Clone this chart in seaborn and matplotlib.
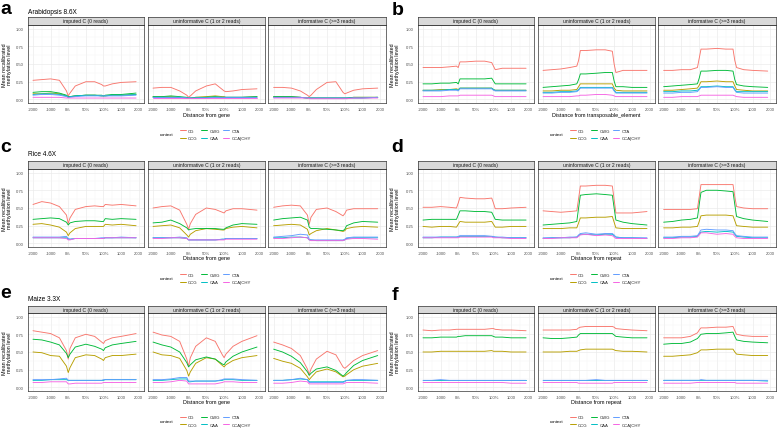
import numpy as np
import pandas as pd
import matplotlib
matplotlib.use("Agg")
import matplotlib.pyplot as plt
import seaborn as sns
from matplotlib.lines import Line2D

# ---------------- data ----------------
CONTEXTS = ["CG", "CCG", "CWG", "CAA", "CTA", "CCA|CHY"]
COLORS = ["#F8766D", "#B79F00", "#00BA38", "#00BFC4", "#619CFF", "#F564E3"]
FACETS = ["imputed C (0 reads)", "uninformative C (1 or 2 reads)", "informative C (>=3 reads)"]
# positions in tick units: 0=-2000, 1=-1000, 2=0%, 3=50%, 4=100%, 5=1000, 6=2000
POS = [0, 0.5, 1.0, 1.5, 1.9, 2.0, 2.1, 2.4, 3.0, 3.5, 3.9, 4.0, 4.1, 4.5, 5.0, 5.85]
TICK_POS = [0, 1, 2, 3, 4, 5, 6]
TICK_LABELS = ["-2000", "-1000", "0%", "50%", "100%", "1000", "2000"]
Y_TICKS = [0.0, 0.25, 0.5, 0.75, 1.0]
Y_TICK_LABELS = ["0.00", "0.25", "0.50", "0.75", "1.00"]

# a: Arabidopsis, gene
a_imputed = {
    "CG":      [0.27, 0.28, 0.29, 0.27, 0.12, 0.05, 0.09, 0.19, 0.25, 0.25, 0.21, 0.19, 0.19, 0.22, 0.24, 0.25],
    "CCG":     [0.08, 0.08, 0.09, 0.08, 0.05, 0.03, 0.04, 0.05, 0.06, 0.06, 0.05, 0.05, 0.05, 0.06, 0.06, 0.07],
    "CWG":     [0.10, 0.11, 0.11, 0.09, 0.06, 0.04, 0.04, 0.05, 0.06, 0.06, 0.06, 0.05, 0.06, 0.07, 0.07, 0.09],
    "CAA":     [0.07, 0.08, 0.08, 0.07, 0.05, 0.03, 0.04, 0.05, 0.06, 0.06, 0.05, 0.05, 0.05, 0.06, 0.06, 0.07],
    "CTA":     [0.06, 0.07, 0.07, 0.06, 0.04, 0.03, 0.03, 0.04, 0.05, 0.05, 0.05, 0.05, 0.05, 0.05, 0.05, 0.06],
    "CCA|CHY": [0.03, 0.03, 0.03, 0.03, 0.02, 0.02, 0.02, 0.02, 0.02, 0.02, 0.02, 0.02, 0.02, 0.02, 0.02, 0.02],
}
a_uninformative = {
    "CG":      [0.16, 0.17, 0.17, 0.12, 0.06, 0.03, 0.05, 0.12, 0.19, 0.22, 0.14, 0.12, 0.11, 0.12, 0.14, 0.15],
    "CCG":     [0.04, 0.04, 0.04, 0.03, 0.02, 0.02, 0.02, 0.03, 0.04, 0.05, 0.04, 0.04, 0.03, 0.03, 0.03, 0.04],
    "CWG":     [0.04, 0.04, 0.05, 0.04, 0.03, 0.02, 0.02, 0.03, 0.03, 0.04, 0.03, 0.03, 0.03, 0.03, 0.03, 0.04],
    "CAA":     [0.03, 0.03, 0.03, 0.03, 0.02, 0.02, 0.02, 0.02, 0.03, 0.03, 0.03, 0.03, 0.03, 0.03, 0.03, 0.03],
    "CTA":     [0.03, 0.03, 0.03, 0.03, 0.02, 0.02, 0.02, 0.02, 0.02, 0.03, 0.03, 0.03, 0.03, 0.03, 0.03, 0.03],
    "CCA|CHY": [0.02, 0.02, 0.02, 0.02, 0.02, 0.02, 0.02, 0.02, 0.02, 0.02, 0.02, 0.02, 0.02, 0.02, 0.02, 0.02],
}
a_informative = {
    "CG":      [0.17, 0.17, 0.16, 0.12, 0.06, 0.04, 0.06, 0.14, 0.24, 0.25, 0.10, 0.08, 0.09, 0.13, 0.15, 0.16],
    "CCG":     [0.04, 0.04, 0.04, 0.03, 0.02, 0.02, 0.02, 0.02, 0.02, 0.02, 0.02, 0.02, 0.02, 0.03, 0.03, 0.03],
    "CWG":     [0.04, 0.04, 0.04, 0.03, 0.02, 0.02, 0.02, 0.02, 0.02, 0.02, 0.02, 0.02, 0.02, 0.03, 0.03, 0.03],
    "CAA":     [0.03, 0.03, 0.03, 0.03, 0.02, 0.02, 0.02, 0.02, 0.02, 0.02, 0.02, 0.02, 0.02, 0.02, 0.02, 0.03],
    "CTA":     [0.03, 0.03, 0.03, 0.03, 0.02, 0.02, 0.02, 0.02, 0.02, 0.02, 0.02, 0.02, 0.02, 0.02, 0.02, 0.03],
    "CCA|CHY": [0.02, 0.02, 0.02, 0.02, 0.02, 0.01, 0.01, 0.01, 0.01, 0.01, 0.01, 0.01, 0.01, 0.02, 0.02, 0.02],
}

# b: Arabidopsis, transposable element
b_imputed = {
    "CG":      [0.45, 0.45, 0.45, 0.46, 0.47, 0.45, 0.53, 0.53, 0.54, 0.54, 0.52, 0.47, 0.42, 0.44, 0.44, 0.44],
    "CCG":     [0.13, 0.13, 0.14, 0.14, 0.15, 0.14, 0.16, 0.16, 0.16, 0.16, 0.16, 0.14, 0.13, 0.13, 0.13, 0.13],
    "CWG":     [0.22, 0.22, 0.23, 0.23, 0.24, 0.22, 0.29, 0.29, 0.29, 0.29, 0.30, 0.26, 0.22, 0.22, 0.22, 0.22],
    "CAA":     [0.13, 0.13, 0.13, 0.14, 0.14, 0.13, 0.16, 0.16, 0.16, 0.16, 0.16, 0.14, 0.13, 0.13, 0.13, 0.13],
    "CTA":     [0.12, 0.12, 0.12, 0.13, 0.13, 0.12, 0.15, 0.15, 0.15, 0.15, 0.15, 0.13, 0.12, 0.12, 0.12, 0.12],
    "CCA|CHY": [0.04, 0.04, 0.04, 0.05, 0.05, 0.05, 0.06, 0.06, 0.06, 0.06, 0.06, 0.05, 0.04, 0.04, 0.04, 0.04],
}
b_uninformative = {
    "CG":      [0.41, 0.42, 0.43, 0.45, 0.47, 0.55, 0.69, 0.69, 0.70, 0.70, 0.68, 0.50, 0.38, 0.41, 0.41, 0.41],
    "CCG":     [0.12, 0.12, 0.13, 0.13, 0.14, 0.18, 0.22, 0.22, 0.22, 0.22, 0.22, 0.16, 0.13, 0.12, 0.12, 0.12],
    "CWG":     [0.17, 0.18, 0.19, 0.20, 0.22, 0.28, 0.36, 0.36, 0.37, 0.38, 0.38, 0.26, 0.18, 0.18, 0.17, 0.17],
    "CAA":     [0.10, 0.10, 0.11, 0.11, 0.12, 0.14, 0.17, 0.17, 0.17, 0.17, 0.17, 0.13, 0.10, 0.10, 0.10, 0.10],
    "CTA":     [0.09, 0.09, 0.10, 0.10, 0.11, 0.13, 0.16, 0.16, 0.16, 0.16, 0.16, 0.12, 0.09, 0.09, 0.09, 0.09],
    "CCA|CHY": [0.04, 0.04, 0.04, 0.04, 0.05, 0.05, 0.06, 0.06, 0.07, 0.07, 0.06, 0.05, 0.04, 0.04, 0.04, 0.04],
}
b_informative = {
    "CG":      [0.41, 0.41, 0.42, 0.42, 0.45, 0.58, 0.71, 0.71, 0.72, 0.71, 0.71, 0.55, 0.45, 0.42, 0.41, 0.40],
    "CCG":     [0.13, 0.13, 0.14, 0.15, 0.16, 0.20, 0.25, 0.25, 0.26, 0.25, 0.25, 0.19, 0.14, 0.13, 0.12, 0.12],
    "CWG":     [0.18, 0.19, 0.20, 0.21, 0.22, 0.30, 0.40, 0.40, 0.41, 0.41, 0.40, 0.28, 0.21, 0.19, 0.18, 0.17],
    "CAA":     [0.11, 0.11, 0.12, 0.12, 0.13, 0.15, 0.18, 0.18, 0.19, 0.18, 0.18, 0.14, 0.11, 0.11, 0.11, 0.11],
    "CTA":     [0.09, 0.09, 0.10, 0.10, 0.11, 0.14, 0.17, 0.17, 0.18, 0.17, 0.17, 0.13, 0.10, 0.09, 0.09, 0.09],
    "CCA|CHY": [0.03, 0.03, 0.04, 0.04, 0.04, 0.05, 0.06, 0.06, 0.06, 0.06, 0.06, 0.05, 0.04, 0.03, 0.03, 0.03],
}

# c: Rice, gene
c_imputed = {
    "CG":      [0.55, 0.59, 0.57, 0.52, 0.40, 0.28, 0.36, 0.48, 0.52, 0.53, 0.52, 0.52, 0.55, 0.54, 0.55, 0.53],
    "CCG":     [0.27, 0.28, 0.26, 0.23, 0.16, 0.11, 0.15, 0.21, 0.24, 0.24, 0.24, 0.24, 0.27, 0.26, 0.27, 0.25],
    "CWG":     [0.34, 0.35, 0.36, 0.35, 0.30, 0.26, 0.29, 0.31, 0.32, 0.32, 0.31, 0.31, 0.35, 0.34, 0.35, 0.34],
    "CAA":     [0.08, 0.08, 0.08, 0.08, 0.08, 0.06, 0.06, 0.07, 0.07, 0.07, 0.07, 0.07, 0.08, 0.08, 0.08, 0.08],
    "CTA":     [0.09, 0.09, 0.09, 0.09, 0.10, 0.07, 0.06, 0.07, 0.07, 0.07, 0.08, 0.08, 0.08, 0.08, 0.09, 0.08],
    "CCA|CHY": [0.08, 0.08, 0.08, 0.08, 0.07, 0.05, 0.05, 0.07, 0.07, 0.07, 0.07, 0.07, 0.08, 0.08, 0.08, 0.08],
}
c_uninformative = {
    "CG":      [0.50, 0.52, 0.53, 0.47, 0.27, 0.20, 0.28, 0.41, 0.50, 0.48, 0.44, 0.43, 0.46, 0.49, 0.49, 0.47],
    "CCG":     [0.24, 0.25, 0.26, 0.22, 0.12, 0.09, 0.13, 0.18, 0.21, 0.20, 0.19, 0.19, 0.21, 0.23, 0.24, 0.22],
    "CWG":     [0.29, 0.30, 0.33, 0.28, 0.22, 0.19, 0.20, 0.21, 0.21, 0.21, 0.20, 0.20, 0.22, 0.26, 0.28, 0.27],
    "CAA":     [0.08, 0.08, 0.08, 0.08, 0.07, 0.05, 0.05, 0.05, 0.05, 0.05, 0.06, 0.06, 0.07, 0.07, 0.07, 0.07],
    "CTA":     [0.08, 0.08, 0.08, 0.09, 0.08, 0.05, 0.05, 0.05, 0.05, 0.05, 0.06, 0.06, 0.07, 0.07, 0.07, 0.07],
    "CCA|CHY": [0.07, 0.07, 0.08, 0.08, 0.07, 0.05, 0.05, 0.05, 0.05, 0.05, 0.05, 0.05, 0.06, 0.06, 0.06, 0.06],
}
c_informative = {
    "CG":      [0.51, 0.53, 0.54, 0.53, 0.40, 0.27, 0.37, 0.48, 0.50, 0.45, 0.39, 0.42, 0.47, 0.49, 0.49, 0.49],
    "CCG":     [0.25, 0.26, 0.27, 0.26, 0.20, 0.12, 0.14, 0.18, 0.21, 0.19, 0.17, 0.18, 0.21, 0.23, 0.24, 0.23],
    "CWG":     [0.33, 0.35, 0.36, 0.37, 0.33, 0.23, 0.21, 0.21, 0.20, 0.19, 0.18, 0.20, 0.25, 0.29, 0.31, 0.30],
    "CAA":     [0.08, 0.08, 0.09, 0.09, 0.08, 0.05, 0.05, 0.04, 0.04, 0.04, 0.04, 0.05, 0.07, 0.08, 0.08, 0.08],
    "CTA":     [0.09, 0.10, 0.11, 0.13, 0.12, 0.06, 0.05, 0.05, 0.05, 0.05, 0.05, 0.06, 0.08, 0.09, 0.09, 0.09],
    "CCA|CHY": [0.07, 0.07, 0.08, 0.09, 0.08, 0.05, 0.04, 0.04, 0.04, 0.04, 0.04, 0.05, 0.06, 0.07, 0.07, 0.06],
}

# d: Rice, repeat
d_imputed = {
    "CG":      [0.51, 0.51, 0.52, 0.51, 0.50, 0.57, 0.65, 0.64, 0.63, 0.63, 0.64, 0.57, 0.49, 0.49, 0.50, 0.51],
    "CCG":     [0.24, 0.23, 0.24, 0.24, 0.23, 0.27, 0.31, 0.30, 0.30, 0.30, 0.31, 0.27, 0.23, 0.23, 0.24, 0.24],
    "CWG":     [0.33, 0.34, 0.34, 0.34, 0.34, 0.40, 0.46, 0.46, 0.45, 0.45, 0.44, 0.39, 0.34, 0.33, 0.33, 0.33],
    "CAA":     [0.08, 0.08, 0.09, 0.09, 0.09, 0.09, 0.10, 0.10, 0.10, 0.10, 0.10, 0.09, 0.09, 0.08, 0.08, 0.08],
    "CTA":     [0.09, 0.09, 0.09, 0.09, 0.09, 0.10, 0.11, 0.11, 0.11, 0.11, 0.10, 0.10, 0.09, 0.09, 0.08, 0.08],
    "CCA|CHY": [0.08, 0.08, 0.08, 0.08, 0.08, 0.08, 0.09, 0.09, 0.09, 0.09, 0.09, 0.08, 0.08, 0.08, 0.07, 0.07],
}
d_uninformative = {
    "CG":      [0.46, 0.45, 0.44, 0.45, 0.46, 0.63, 0.81, 0.81, 0.82, 0.82, 0.81, 0.62, 0.43, 0.43, 0.43, 0.45],
    "CCG":     [0.21, 0.21, 0.21, 0.22, 0.22, 0.29, 0.36, 0.36, 0.37, 0.37, 0.38, 0.30, 0.22, 0.21, 0.21, 0.21],
    "CWG":     [0.26, 0.27, 0.28, 0.29, 0.31, 0.50, 0.68, 0.69, 0.70, 0.69, 0.68, 0.50, 0.33, 0.30, 0.28, 0.26],
    "CAA":     [0.07, 0.08, 0.08, 0.08, 0.09, 0.11, 0.13, 0.13, 0.12, 0.13, 0.13, 0.11, 0.09, 0.08, 0.08, 0.07],
    "CTA":     [0.08, 0.08, 0.08, 0.09, 0.09, 0.12, 0.14, 0.15, 0.13, 0.14, 0.14, 0.12, 0.09, 0.08, 0.08, 0.08],
    "CCA|CHY": [0.07, 0.07, 0.08, 0.08, 0.08, 0.10, 0.12, 0.13, 0.11, 0.12, 0.11, 0.09, 0.07, 0.07, 0.07, 0.07],
}
d_informative = {
    "CG":      [0.48, 0.48, 0.48, 0.48, 0.49, 0.66, 0.83, 0.83, 0.83, 0.83, 0.83, 0.66, 0.52, 0.50, 0.49, 0.49],
    "CCG":     [0.22, 0.22, 0.23, 0.23, 0.24, 0.31, 0.39, 0.40, 0.40, 0.40, 0.39, 0.32, 0.25, 0.24, 0.23, 0.23],
    "CWG":     [0.30, 0.31, 0.33, 0.34, 0.36, 0.55, 0.72, 0.75, 0.75, 0.74, 0.73, 0.55, 0.38, 0.35, 0.33, 0.31],
    "CAA":     [0.08, 0.08, 0.09, 0.09, 0.10, 0.13, 0.16, 0.17, 0.16, 0.17, 0.16, 0.13, 0.10, 0.09, 0.08, 0.08],
    "CTA":     [0.09, 0.09, 0.10, 0.10, 0.11, 0.15, 0.19, 0.20, 0.19, 0.19, 0.18, 0.14, 0.11, 0.10, 0.09, 0.09],
    "CCA|CHY": [0.07, 0.07, 0.08, 0.08, 0.09, 0.12, 0.15, 0.15, 0.13, 0.14, 0.13, 0.10, 0.08, 0.07, 0.07, 0.07],
}

# e: Maize, gene
e_imputed = {
    "CG":      [0.80, 0.78, 0.76, 0.70, 0.52, 0.40, 0.55, 0.70, 0.75, 0.72, 0.64, 0.62, 0.66, 0.70, 0.72, 0.76],
    "CCG":     [0.50, 0.49, 0.45, 0.44, 0.30, 0.21, 0.28, 0.42, 0.46, 0.45, 0.40, 0.38, 0.42, 0.45, 0.45, 0.47],
    "CWG":     [0.68, 0.67, 0.64, 0.60, 0.48, 0.42, 0.47, 0.57, 0.61, 0.58, 0.54, 0.52, 0.56, 0.60, 0.62, 0.65],
    "CAA":     [0.10, 0.10, 0.11, 0.11, 0.11, 0.10, 0.10, 0.10, 0.10, 0.10, 0.10, 0.10, 0.11, 0.11, 0.11, 0.11],
    "CTA":     [0.11, 0.11, 0.11, 0.12, 0.13, 0.10, 0.10, 0.10, 0.10, 0.10, 0.10, 0.11, 0.11, 0.11, 0.11, 0.11],
    "CCA|CHY": [0.07, 0.07, 0.08, 0.08, 0.08, 0.05, 0.05, 0.06, 0.06, 0.06, 0.06, 0.07, 0.07, 0.07, 0.07, 0.07],
}
e_uninformative = {
    "CG":      [0.78, 0.74, 0.72, 0.65, 0.40, 0.30, 0.42, 0.58, 0.70, 0.65, 0.46, 0.42, 0.47, 0.58, 0.65, 0.73],
    "CCG":     [0.50, 0.46, 0.45, 0.41, 0.24, 0.16, 0.22, 0.34, 0.42, 0.40, 0.31, 0.29, 0.32, 0.38, 0.42, 0.45],
    "CWG":     [0.64, 0.60, 0.57, 0.50, 0.35, 0.29, 0.32, 0.39, 0.43, 0.40, 0.33, 0.32, 0.36, 0.44, 0.50, 0.57],
    "CAA":     [0.10, 0.10, 0.11, 0.12, 0.12, 0.08, 0.08, 0.09, 0.09, 0.09, 0.10, 0.11, 0.11, 0.11, 0.10, 0.10],
    "CTA":     [0.11, 0.11, 0.12, 0.14, 0.14, 0.09, 0.09, 0.09, 0.09, 0.09, 0.11, 0.12, 0.12, 0.12, 0.11, 0.10],
    "CCA|CHY": [0.07, 0.07, 0.08, 0.10, 0.09, 0.05, 0.05, 0.05, 0.05, 0.05, 0.07, 0.08, 0.08, 0.08, 0.07, 0.07],
}
e_informative = {
    "CG":      [0.64, 0.60, 0.55, 0.45, 0.26, 0.18, 0.26, 0.40, 0.51, 0.46, 0.29, 0.27, 0.29, 0.38, 0.45, 0.52],
    "CCG":     [0.41, 0.37, 0.34, 0.27, 0.15, 0.11, 0.14, 0.22, 0.26, 0.22, 0.15, 0.16, 0.18, 0.25, 0.30, 0.34],
    "CWG":     [0.54, 0.50, 0.44, 0.35, 0.22, 0.17, 0.20, 0.26, 0.29, 0.24, 0.16, 0.18, 0.21, 0.31, 0.38, 0.45],
    "CAA":     [0.10, 0.10, 0.11, 0.12, 0.11, 0.08, 0.08, 0.08, 0.08, 0.08, 0.08, 0.09, 0.10, 0.10, 0.10, 0.10],
    "CTA":     [0.10, 0.10, 0.11, 0.13, 0.11, 0.07, 0.07, 0.07, 0.07, 0.07, 0.07, 0.08, 0.10, 0.11, 0.11, 0.10],
    "CCA|CHY": [0.06, 0.06, 0.07, 0.09, 0.08, 0.05, 0.05, 0.05, 0.05, 0.05, 0.05, 0.06, 0.07, 0.07, 0.07, 0.06],
}

# f: Maize, repeat
f_imputed = {
    "CG":      [0.81, 0.80, 0.81, 0.81, 0.82, 0.82, 0.82, 0.82, 0.82, 0.82, 0.83, 0.83, 0.82, 0.81, 0.81, 0.80],
    "CCG":     [0.50, 0.50, 0.51, 0.51, 0.51, 0.51, 0.51, 0.51, 0.51, 0.51, 0.52, 0.51, 0.51, 0.51, 0.50, 0.50],
    "CWG":     [0.70, 0.70, 0.71, 0.71, 0.71, 0.72, 0.72, 0.73, 0.73, 0.73, 0.73, 0.72, 0.71, 0.71, 0.70, 0.70],
    "CAA":     [0.10, 0.10, 0.10, 0.10, 0.10, 0.10, 0.10, 0.10, 0.10, 0.10, 0.10, 0.10, 0.10, 0.10, 0.10, 0.10],
    "CTA":     [0.10, 0.10, 0.11, 0.10, 0.10, 0.10, 0.10, 0.10, 0.10, 0.10, 0.10, 0.10, 0.10, 0.10, 0.10, 0.10],
    "CCA|CHY": [0.07, 0.07, 0.07, 0.07, 0.07, 0.07, 0.07, 0.07, 0.07, 0.07, 0.07, 0.07, 0.07, 0.07, 0.06, 0.06],
}
f_uninformative = {
    "CG":      [0.81, 0.81, 0.81, 0.81, 0.82, 0.84, 0.85, 0.86, 0.86, 0.86, 0.86, 0.85, 0.83, 0.82, 0.81, 0.80],
    "CCG":     [0.50, 0.50, 0.50, 0.51, 0.51, 0.52, 0.53, 0.54, 0.54, 0.54, 0.54, 0.53, 0.52, 0.51, 0.51, 0.50],
    "CWG":     [0.70, 0.69, 0.69, 0.70, 0.71, 0.74, 0.76, 0.76, 0.76, 0.76, 0.76, 0.74, 0.72, 0.71, 0.70, 0.70],
    "CAA":     [0.10, 0.10, 0.10, 0.10, 0.10, 0.10, 0.10, 0.10, 0.10, 0.10, 0.10, 0.10, 0.10, 0.10, 0.10, 0.10],
    "CTA":     [0.10, 0.10, 0.10, 0.10, 0.10, 0.10, 0.10, 0.10, 0.11, 0.10, 0.10, 0.10, 0.10, 0.10, 0.10, 0.10],
    "CCA|CHY": [0.07, 0.07, 0.07, 0.07, 0.07, 0.06, 0.06, 0.06, 0.06, 0.06, 0.06, 0.07, 0.07, 0.07, 0.07, 0.07],
}
f_informative = {
    "CG":      [0.70, 0.70, 0.70, 0.72, 0.77, 0.81, 0.84, 0.84, 0.85, 0.85, 0.86, 0.80, 0.75, 0.73, 0.72, 0.72],
    "CCG":     [0.44, 0.44, 0.45, 0.46, 0.49, 0.51, 0.53, 0.53, 0.54, 0.54, 0.54, 0.50, 0.47, 0.46, 0.45, 0.45],
    "CWG":     [0.61, 0.62, 0.62, 0.64, 0.69, 0.72, 0.75, 0.76, 0.76, 0.77, 0.78, 0.72, 0.67, 0.65, 0.64, 0.63],
    "CAA":     [0.10, 0.10, 0.10, 0.10, 0.10, 0.10, 0.10, 0.10, 0.10, 0.10, 0.10, 0.10, 0.10, 0.10, 0.10, 0.09],
    "CTA":     [0.10, 0.10, 0.10, 0.10, 0.10, 0.10, 0.11, 0.10, 0.10, 0.10, 0.10, 0.10, 0.10, 0.10, 0.10, 0.10],
    "CCA|CHY": [0.06, 0.06, 0.06, 0.06, 0.07, 0.07, 0.07, 0.07, 0.07, 0.07, 0.07, 0.07, 0.06, 0.06, 0.06, 0.06],
}

PANELS = [
    dict(letter="a", title="Arabidopsis 8.6X", xlabel="Distance from gene", col=0, row=0,
         facets=[a_imputed, a_uninformative, a_informative]),
    dict(letter="b", title=None, xlabel="Distance from transposable_element", col=1, row=0,
         facets=[b_imputed, b_uninformative, b_informative]),
    dict(letter="c", title="Rice 4.6X", xlabel="Distance from gene", col=0, row=1,
         facets=[c_imputed, c_uninformative, c_informative]),
    dict(letter="d", title=None, xlabel="Distance from repeat", col=1, row=1,
         facets=[d_imputed, d_uninformative, d_informative]),
    dict(letter="e", title="Maize 3.3X", xlabel="Distance from gene", col=0, row=2,
         facets=[e_imputed, e_uninformative, e_informative]),
    dict(letter="f", title=None, xlabel="Distance from repeat", col=1, row=2,
         facets=[f_imputed, f_uninformative, f_informative]),
]

# ---------------- layout (pixels) ----------------
W, H = 777, 431
COL_X = [0, 390]
# (strip top, plot top, plot bottom, title center, xlabel center, legend center)
ROWS = [
    (17.5, 26.0, 104.0, 13.0, 115.5, 135.5),
    (162.0, 170.0, 248.0, 154.5, 258.5, 279.5),
    (306.5, 314.0, 392.0, 299.5, 402.5, 422.0),
]
LETTER_BASE = {"a": 13.5, "b": 15.0, "c": 152.5, "d": 152.0, "e": 298.0, "f": 300.0}
FACET_X = [(27.7, 144.0), (147.7, 265.0), (268.3, 385.7)]

sns.set_theme(style="white")
plt.rcParams["font.family"] = ["Liberation Sans", "DejaVu Sans"]

fig = plt.figure(figsize=(W / 100, H / 100), dpi=100)
fig.patch.set_facecolor("white")


def rect(x0, y0, x1, y1):
    return [x0 / W, 1 - y1 / H, (x1 - x0) / W, (y1 - y0) / H]


def fx(x):
    return x / W


def fy(y):
    return 1 - y / H


def long_frame(d):
    rows = []
    for c in CONTEXTS:
        for p, v in zip(POS, d[c]):
            rows.append((p, v, c))
    return pd.DataFrame(rows, columns=["pos", "value", "context"])


BORDER = "#333333"
for P in PANELS:
    cx = COL_X[P["col"]]
    st, pt, pb, tc, xc, lc = ROWS[P["row"]]
    for k, (x0, x1) in enumerate(FACET_X):
        ax = fig.add_axes(rect(cx + x0, pt, cx + x1, pb))
        ax.set_facecolor("white")
        df = long_frame(P["facets"][k])
        sns.lineplot(data=df, x="pos", y="value", hue="context", hue_order=CONTEXTS,
                     palette=COLORS, ax=ax, legend=False, linewidth=0.65,
                     estimator=None, sort=False)
        ax.set_xlim(-0.3, 6.3)
        ax.set_ylim(-0.05, 1.05)
        ax.set_xticks(TICK_POS)
        ax.set_xticklabels(TICK_LABELS)
        ax.set_xticks([0.5, 1.5, 2.5, 3.5, 4.5, 5.5], minor=True)
        ax.set_yticks(Y_TICKS)
        ax.set_yticks([0.125, 0.375, 0.625, 0.875], minor=True)
        ax.grid(True, which="major", color="#EBEBEB", linewidth=0.5)
        ax.grid(True, which="minor", color="#F4F4F4", linewidth=0.3)
        ax.set_axisbelow(True)
        ax.set_xlabel("")
        ax.set_ylabel("")
        ax.tick_params(which="major", length=1.8, width=0.4, color=BORDER, pad=1,
                       labelsize=3.0, labelcolor="#4D4D4D")
        ax.tick_params(which="minor", length=0)
        if k == 0:
            ax.set_yticklabels(Y_TICK_LABELS)
        else:
            ax.tick_params(axis="y", which="major", length=0, labelleft=False)
        for s in ax.spines.values():
            s.set_color(BORDER)
            s.set_linewidth(0.5)
        # strip
        sax = fig.add_axes(rect(cx + x0, st, cx + x1, pt))
        sax.set_facecolor("#D9D9D9")
        sax.set_xticks([])
        sax.set_yticks([])
        for s in sax.spines.values():
            s.set_color(BORDER)
            s.set_linewidth(0.5)
        sax.text(0.5, 0.5, FACETS[k], ha="center", va="center", fontsize=3.6,
                 color="#1A1A1A", transform=sax.transAxes)

    # panel letter
    fig.text(fx(cx + (0.5 if P["col"] == 0 else 1.5)), fy(LETTER_BASE[P["letter"]]),
             P["letter"], fontsize=14, fontweight="bold", ha="left", va="baseline",
             color="black")
    # title
    if P["title"]:
        fig.text(fx(cx + 28), fy(tc), P["title"], fontsize=4.7, ha="left", va="center",
                 color="black")
    # y label
    ylx = 7.0 if P["col"] == 0 else 4.5
    fig.text(fx(cx + ylx), fy((pt + pb) / 2), "Mean recalibrated\nmethylation level",
             rotation=90, fontsize=3.9, ha="center", va="center", linespacing=1.0,
             color="black")
    # x label
    fig.text(fx(cx + (FACET_X[1][0] + FACET_X[1][1]) / 2), fy(xc), P["xlabel"],
             fontsize=3.9, ha="center", va="center", color="black")
    # legend
    handles = [Line2D([], [], color=c, linewidth=0.7) for c in COLORS]
    fig.legend(handles, CONTEXTS, loc="center left",
               bbox_to_anchor=(fx(cx + 179.5), fy(lc)), ncol=3, frameon=False,
               fontsize=3.1, handlelength=1.5, handletextpad=0.5, columnspacing=0.7,
               labelspacing=0.9, borderpad=0, borderaxespad=0)
    fig.text(fx(cx + 173), fy(lc), "context", fontsize=3.1, ha="right", va="center",
             color="black")

fig.savefig("out.png", dpi=100, facecolor="white")
